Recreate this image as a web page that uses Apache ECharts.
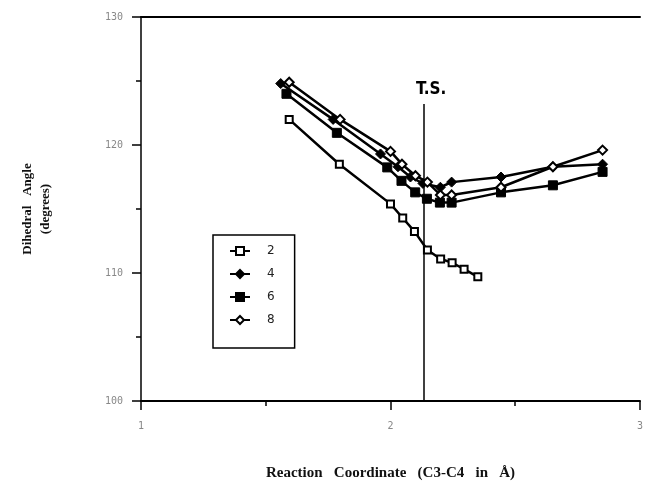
<!DOCTYPE html>
<html>
<head>
<meta charset="utf-8">
<script src="https://cdn.jsdelivr.net/npm/echarts@6/dist/echarts.min.js"></script>
<style>
  html, body { margin: 0; padding: 0; background: #fff; }
  #chart { width: 646px; height: 486px; }
</style>
</head>
<body>
<div id="chart"></div>
<script>
// 数据：反应坐标 (C3-C4, Å) 与二面角 (度)
var xs2 = [1.594, 1.795, 2.0, 2.049, 2.096, 2.148, 2.201, 2.247, 2.295, 2.35];
var ys2 = [122.0, 118.5, 115.4, 114.3, 113.25, 111.8, 111.1, 110.8, 110.3, 109.7];

var xs4 = [1.56, 1.77, 1.96, 2.03, 2.08, 2.13, 2.20, 2.245, 2.443, 2.651, 2.85];
var ys4 = [124.8, 122.0, 119.3, 118.3, 117.5, 117.0, 116.7, 117.1, 117.5, 118.3, 118.5];

var xs6 = [1.583, 1.785, 1.987, 2.044, 2.099, 2.146, 2.198, 2.245, 2.443, 2.651, 2.85];
var ys6 = [124.0, 120.95, 118.25, 117.2, 116.3, 115.8, 115.5, 115.5, 116.3, 116.85, 117.9];

var xs8 = [1.594, 1.798, 2.0, 2.046, 2.10, 2.148, 2.20, 2.245, 2.443, 2.651, 2.85];
var ys8 = [124.9, 122.0, 119.5, 118.5, 117.6, 117.1, 116.1, 116.1, 116.7, 118.3, 119.6];

var seriesNames = ['2', '4', '6', '8'];
var xTicks = [1, 2, 3];
var yTicks = [100, 110, 120, 130];

// 过渡态位置
var TS_X = 2.135;
var TS_TOP = 123.2;

function pairs(xs, ys) {
    var out = [];
    for (var i = 0; i < xs.length; i++) {
        out.push([xs[i], ys[i]]);
    }
    return out;
}

var myChart = echarts.init(document.getElementById('chart'));

var tickLabel = {
    color: '#888',
    fontFamily: 'DejaVu Sans Mono',
    fontSize: 10
};

var option = {
    animation: false,
    grid: {
        left: 141,
        right: 1,
        top: 17,
        bottom: 79
    },
    legend: {
        orient: 'vertical',
        left: 213,
        top: 235,
        data: seriesNames,
        itemWidth: 20,
        itemHeight: 10,
        itemGap: 9,
        padding: [9, 20, 21, 16],
        borderColor: '#000',
        borderWidth: 1.5,
        backgroundColor: '#fff',
        textStyle: {
            color: '#222',
            fontFamily: 'DejaVu Sans',
            fontSize: 12,
            lineHeight: 14,
            padding: [0, 0, 0, 12]
        }
    },
    xAxis: [
        {
            type: 'value',
            min: 1,
            max: 3,
            interval: 1,
            name: 'Reaction   Coordinate   (C3-C4   in   Å)',
            nameLocation: 'middle',
            nameGap: 65,
            nameTextStyle: {
                color: '#111',
                fontFamily: 'Liberation Serif',
                fontWeight: 'bold',
                fontSize: 15
            },
            axisLine: { show: true, lineStyle: { color: '#000', width: 2 } },
            axisTick: { show: true, inside: false, length: 9, lineStyle: { color: '#000', width: 1.5 } },
            minorTick: { show: true, splitNumber: 2, length: 5, lineStyle: { color: '#000', width: 1.5 } },
            axisLabel: {
                margin: 20,
                color: tickLabel.color,
                fontFamily: tickLabel.fontFamily,
                fontSize: tickLabel.fontSize,
                customValues: xTicks
            },
            splitLine: { show: false }
        },
        {
            type: 'value',
            position: 'top',
            min: 1,
            max: 3,
            axisLine: { show: true, lineStyle: { color: '#000', width: 2 } },
            axisTick: { show: false },
            axisLabel: { show: false },
            splitLine: { show: false }
        }
    ],
    yAxis: {
        type: 'value',
        min: 100,
        max: 130,
        interval: 10,
        name: 'Dihedral   Angle\n(degrees)',
        nameLocation: 'middle',
        nameRotate: 90,
        nameGap: 86,
        nameTextStyle: {
            color: '#111',
            fontFamily: 'Liberation Serif',
            fontWeight: 'bold',
            fontSize: 13,
            lineHeight: 18
        },
        axisLine: { show: true, lineStyle: { color: '#000', width: 1.5 } },
        axisTick: { show: true, inside: false, length: 9, lineStyle: { color: '#000', width: 1.5 } },
        minorTick: { show: true, splitNumber: 2, length: 5, lineStyle: { color: '#000', width: 1.5 } },
        axisLabel: {
            margin: 18,
            color: tickLabel.color,
            fontFamily: tickLabel.fontFamily,
            fontSize: tickLabel.fontSize,
            customValues: yTicks
        },
        splitLine: { show: false }
    },
    series: [
        {
            name: '2',
            type: 'line',
            data: pairs(xs2, ys2),
            symbol: 'rect',
            symbolSize: 7,
            itemStyle: { color: '#fff', borderColor: '#000', borderWidth: 2 },
            lineStyle: { color: '#000', width: 2.5 },
            z: 3,
            markLine: {
                silent: true,
                symbol: ['none', 'none'],
                lineStyle: { color: '#000', width: 1.5, type: 'solid' },
                label: {
                    show: true,
                    position: 'end',
                    distance: 6,
                    offset: [7, 0],
                    formatter: 'T.S.',
                    color: '#000',
                    fontFamily: 'DejaVu Sans Condensed, Liberation Sans Narrow, sans-serif',
                    fontWeight: 'bold',
                    fontSize: 17
                },
                data: [
                    [{ coord: [TS_X, 100] }, { coord: [TS_X, TS_TOP] }]
                ]
            }
        },
        {
            name: '4',
            type: 'line',
            data: pairs(xs4, ys4),
            symbol: 'diamond',
            symbolSize: 10,
            itemStyle: { color: '#000', borderColor: '#000', borderWidth: 1 },
            lineStyle: { color: '#000', width: 2.5 },
            z: 3
        },
        {
            name: '6',
            type: 'line',
            data: pairs(xs6, ys6),
            symbol: 'rect',
            symbolSize: 9,
            itemStyle: { color: '#000', borderColor: '#000', borderWidth: 1 },
            lineStyle: { color: '#000', width: 2.5 },
            z: 3
        },
        {
            name: '8',
            type: 'line',
            data: pairs(xs8, ys8),
            symbol: 'diamond',
            symbolSize: 9,
            itemStyle: { color: '#fff', borderColor: '#000', borderWidth: 2 },
            lineStyle: { color: '#000', width: 2.5 },
            z: 4
        }
    ]
};

myChart.setOption(option);
</script>
</body>
</html>
